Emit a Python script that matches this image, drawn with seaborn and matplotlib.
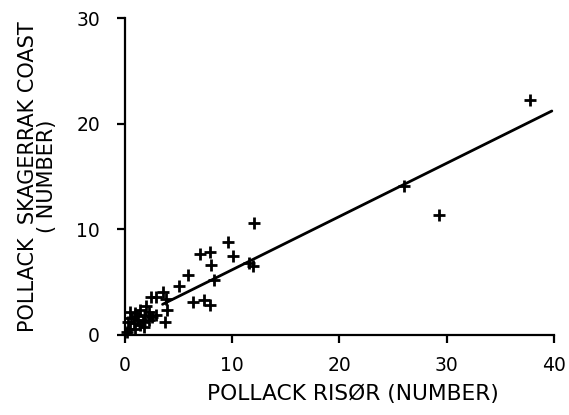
import matplotlib
matplotlib.use("Agg")
import matplotlib.pyplot as plt
import seaborn as sns
import pandas as pd

# Data
risor = [37.8, 26.0, 29.3, 12.0, 11.6, 11.9,
         9.6, 7.0, 7.9, 10.1, 8.05, 5.9, 8.3, 5.0, 6.3, 7.4, 7.9,
         2.4, 2.9, 3.5, 3.8, 3.9, 3.7, 2.9, 2.2, 2.0, 1.9, 1.4, 0.9, 0.45,
         0.3, 0.8, 1.25, 1.7, 2.2, 0.45, 0.95, 0.15, 1.4, 2.5, 0.6, 1.1, 1.8]
skagerrak = [22.2, 14.1, 11.35, 10.6, 6.8, 6.5,
             8.8, 7.7, 7.9, 7.5, 6.6, 5.7, 5.2, 4.6, 3.15, 3.3, 2.85,
             3.6, 3.6, 4.05, 3.4, 2.4, 1.2, 1.9, 2.2, 2.7, 1.9, 2.4, 2.05, 2.2,
             1.25, 1.1, 1.4, 1.25, 1.4, 0.6, 0.6, 0.3, 0.9, 1.7, 1.6, 1.8, 0.8]
fit_x = [3.5, 39.8]
fit_y = [2.9, 21.2]
x_ticks = [0, 10, 20, 30, 40]
y_ticks = [0, 10, 20, 30]

df = pd.DataFrame({"x": risor, "y": skagerrak})
fit = pd.DataFrame({"x": fit_x, "y": fit_y})

sns.set_style("ticks")
plt.rcParams['font.family'] = ['DejaVu Sans']

fig = plt.figure(figsize=(5.69, 4.15), dpi=100)
ax = fig.add_axes([0.2197, 0.1928, 0.7539, 0.7638])

sns.lineplot(data=fit, x="x", y="y", ax=ax, color="black", linewidth=2.0)
sns.scatterplot(data=df, x="x", y="y", ax=ax, marker="+", color="black",
                s=85, linewidth=2.0)

ax.set_xlim(0, 40)
ax.set_ylim(0, 30)
ax.set_xticks(x_ticks)
ax.set_yticks(y_ticks)
ax.set_xticklabels([str(t) for t in x_ticks], fontsize=13.5)
ax.set_yticklabels([str(t) for t in y_ticks], fontsize=13.5)
ax.tick_params(axis="both", direction="out", length=6, width=1.6, color="black",
               labelcolor="black")
ax.tick_params(axis="y", pad=12)
ax.tick_params(axis="x", pad=9)
for side in ["top", "right"]:
    ax.spines[side].set_visible(False)
for side in ["left", "bottom"]:
    ax.spines[side].set_linewidth(1.6)
    ax.spines[side].set_color("black")

ax.set_xlabel("POLLACK RISØR (NUMBER)", fontsize=15.7, color="black")
ax.xaxis.set_label_coords(0.532, -0.155)
ax.set_ylabel("POLLACK  SKAGERRAK COAST\n( NUMBER)", fontsize=15, linespacing=0.95,
              color="black")
ax.yaxis.set_label_coords(-0.158, 0.5)

for c in ax.collections:
    c.set_clip_on(False)

fig.savefig("out.png", dpi=100)
